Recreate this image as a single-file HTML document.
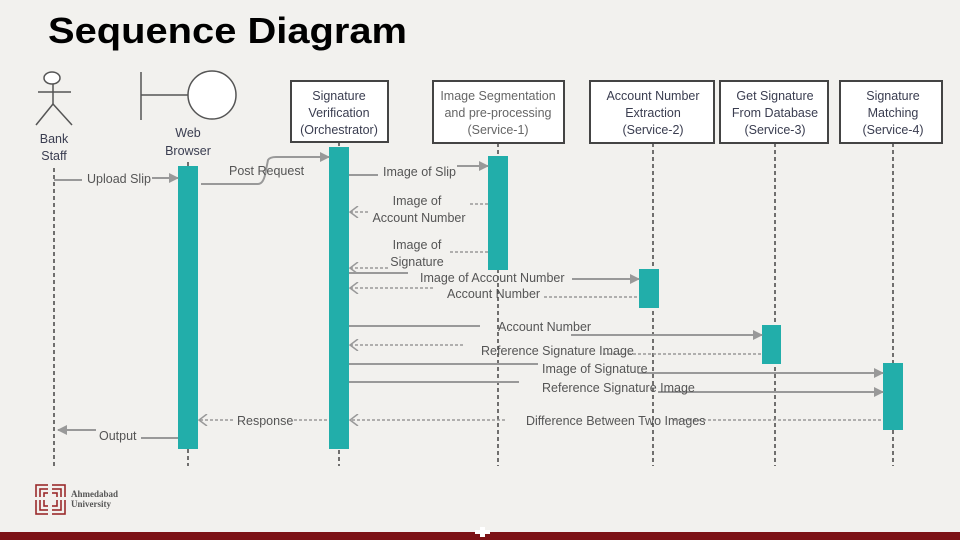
<!DOCTYPE html>
<html><head><meta charset="utf-8"><style>
html,body{margin:0;padding:0;background:#f2f1ee;}
svg{display:block;font-family:"Liberation Sans",sans-serif;}
</style></head><body>
<svg width="960" height="540" viewBox="0 0 960 540" xmlns="http://www.w3.org/2000/svg">
<defs>
<marker id="fa" markerWidth="10" markerHeight="10" refX="9" refY="5" orient="auto" markerUnits="userSpaceOnUse"><path d="M0,0 L10,5 L0,10 z" fill="#999"/></marker>
<marker id="oa" markerWidth="10" markerHeight="12" refX="9" refY="6" orient="auto" markerUnits="userSpaceOnUse"><path d="M1,0 L9,6 L1,12" fill="none" stroke="#999" stroke-width="1.5"/></marker>
</defs>
<rect width="960" height="540" fill="#f2f1ee"/>
<text x="48" y="43" font-size="36" font-weight="bold" fill="#000" textLength="359" lengthAdjust="spacingAndGlyphs">Sequence Diagram</text>

<g stroke="#444" stroke-width="1.5" stroke-dasharray="4,3">
<line x1="54" y1="168" x2="54" y2="466"/>
<line x1="188" y1="162" x2="188" y2="466"/>
<line x1="339" y1="142" x2="339" y2="466"/>
<line x1="498" y1="143" x2="498" y2="466"/>
<line x1="653" y1="143" x2="653" y2="466"/>
<line x1="775" y1="143" x2="775" y2="466"/>
<line x1="893" y1="143" x2="893" y2="466"/>
</g>

<g stroke="#555" stroke-width="1.5" fill="#fff">
<ellipse cx="52" cy="78" rx="8" ry="6"/>
<line x1="38" y1="92" x2="71" y2="92"/>
<line x1="53" y1="84" x2="53" y2="104"/>
<line x1="53" y1="104" x2="36" y2="125"/>
<line x1="53" y1="104" x2="72" y2="125"/>
</g>
<g font-size="12.5" fill="#3a3d50" text-anchor="middle">
<text x="54" y="143">Bank</text><text x="54" y="160">Staff</text>
<text x="188" y="137">Web</text><text x="188" y="155">Browser</text>
</g>
<g stroke="#555" stroke-width="1.5" fill="#fff">
<line x1="141" y1="72" x2="141" y2="120"/>
<line x1="141" y1="95" x2="188" y2="95"/>
<circle cx="212" cy="95" r="24"/>
</g>

<g fill="#fff" stroke="#444" stroke-width="2">
<rect x="291" y="81" width="97" height="61"/>
<rect x="433" y="81" width="131" height="62"/>
<rect x="590" y="81" width="124" height="62"/>
<rect x="720" y="81" width="108" height="62"/>
<rect x="840" y="81" width="102" height="62"/>
</g>
<g font-size="12.5" fill="#3a3d50" text-anchor="middle">
<text x="339" y="100">Signature</text><text x="339" y="117">Verification</text><text x="339" y="134">(Orchestrator)</text>
<g fill="#666"><text x="498" y="100">Image Segmentation</text><text x="498" y="117">and pre-processing</text><text x="498" y="134">(Service-1)</text></g>
<text x="653" y="100">Account Number</text><text x="653" y="117">Extraction</text><text x="653" y="134">(Service-2)</text>
<text x="775" y="100">Get Signature</text><text x="775" y="117">From Database</text><text x="775" y="134">(Service-3)</text>
<text x="893" y="100">Signature</text><text x="893" y="117">Matching</text><text x="893" y="134">(Service-4)</text>
</g>

<g fill="#22aeaa">
<rect x="178" y="166" width="20" height="283"/>
<rect x="329" y="147" width="20" height="302"/>
<rect x="488" y="156" width="20" height="114"/>
<rect x="639" y="269" width="20" height="39"/>
<rect x="762" y="325" width="19" height="39"/>
<rect x="883" y="363" width="20" height="67"/>
</g>

<g stroke="#999" stroke-width="2" fill="none">
<line x1="54" y1="180" x2="82" y2="180"/>
<line x1="152" y1="178" x2="178" y2="178" marker-end="url(#fa)"/>
<path d="M201,184 L258,184 Q264,184 266,170 L268,160 Q270,157 276,157 L329,157" marker-end="url(#fa)"/>
<line x1="349" y1="175" x2="378" y2="175"/>
<line x1="457" y1="166" x2="488" y2="166" marker-end="url(#fa)"/>
<line x1="349" y1="273" x2="408" y2="273"/>
<line x1="572" y1="279" x2="639" y2="279" marker-end="url(#fa)"/>
<line x1="349" y1="326" x2="480" y2="326"/>
<line x1="571" y1="335" x2="762" y2="335" marker-end="url(#fa)"/>
<line x1="349" y1="364" x2="538" y2="364"/>
<line x1="638" y1="373" x2="883" y2="373" marker-end="url(#fa)"/>
<line x1="349" y1="382" x2="519" y2="382"/>
<line x1="658" y1="392" x2="883" y2="392" marker-end="url(#fa)"/>
<line x1="96" y1="430" x2="58" y2="430" marker-end="url(#fa)"/>
<line x1="141" y1="438" x2="178" y2="438"/>
</g>
<g stroke="#999" stroke-width="1.5" fill="none" stroke-dasharray="3,2">
<line x1="470" y1="204" x2="488" y2="204"/>
<line x1="368" y1="212" x2="350" y2="212" marker-end="url(#oa)"/>
<line x1="450" y1="252" x2="488" y2="252"/>
<line x1="388" y1="268" x2="350" y2="268" marker-end="url(#oa)"/>
<line x1="544" y1="297" x2="639" y2="297"/>
<line x1="433" y1="288" x2="350" y2="288" marker-end="url(#oa)"/>
<line x1="603" y1="354" x2="762" y2="354"/>
<line x1="463" y1="345" x2="350" y2="345" marker-end="url(#oa)"/>
<line x1="673" y1="420" x2="883" y2="420"/>
<line x1="505" y1="420" x2="350" y2="420" marker-end="url(#oa)"/>
<line x1="294" y1="420" x2="329" y2="420"/>
<line x1="233" y1="420" x2="199" y2="420" marker-end="url(#oa)"/>
</g>
<g font-size="12.5" fill="#555">
<text x="87" y="183">Upload Slip</text>
<text x="229" y="175">Post Request</text>
<text x="383" y="176">Image of Slip</text>
<text x="417" y="205" text-anchor="middle">Image of</text>
<text x="419" y="222" text-anchor="middle">Account Number</text>
<text x="417" y="249" text-anchor="middle">Image of</text>
<text x="417" y="266" text-anchor="middle">Signature</text>
<text x="420" y="282">Image of  Account Number</text>
<text x="447" y="298">Account Number</text>
<text x="498" y="331">Account Number</text>
<text x="481" y="355">Reference Signature Image</text>
<text x="542" y="373">Image of Signature</text>
<text x="542" y="392">Reference Signature Image</text>
<text x="526" y="425">Difference Between Two Images</text>
<text x="237" y="425">Response</text>
<text x="99" y="440">Output</text>
</g>

<g fill="none" stroke="#9b2a2c" stroke-width="1.6">
<rect x="36" y="485" width="29" height="29"/>
<rect x="40" y="489" width="21" height="21"/>
<rect x="44" y="493" width="13" height="13"/>
</g>
<rect x="48" y="484" width="4" height="31" fill="#f2f1ee"/>
<rect x="35" y="497" width="31" height="3" fill="#f2f1ee"/>
<g font-family="Liberation Serif,serif" font-weight="bold" font-size="9" fill="#555">
<text x="71" y="497">Ahmedabad</text><text x="71" y="507">University</text>
</g>

<rect x="0" y="532" width="960" height="8" fill="#7c1216"/>
<rect x="475" y="530" width="15" height="4" fill="#fff"/>
<rect x="480" y="527" width="5" height="10" fill="#fff"/>
</svg>
</body></html>
